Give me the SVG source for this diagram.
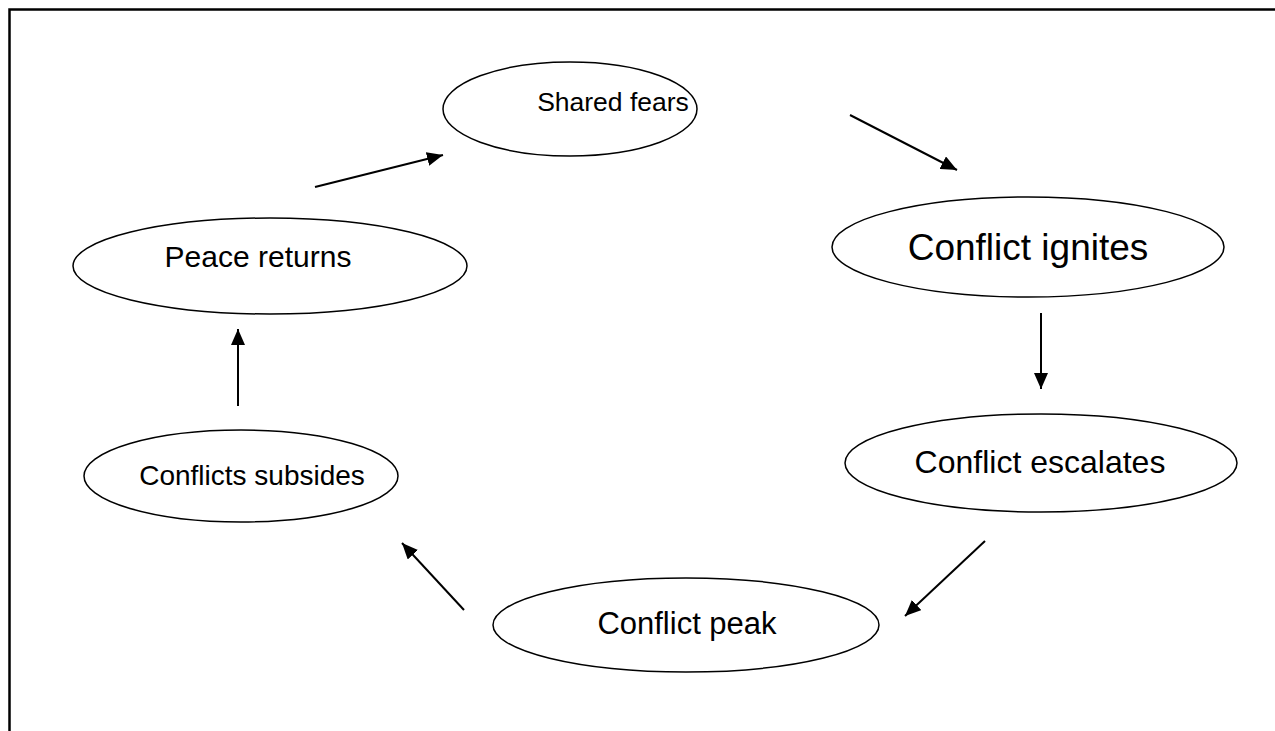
<svg xmlns="http://www.w3.org/2000/svg" width="1275" height="731" viewBox="0 0 1275 731">
<defs>
<style>
.n{fill:#fff;stroke:#000;stroke-width:1.5}
.t{font-family:"Liberation Sans",Arial,sans-serif;fill:#000;text-anchor:middle}
.c{stroke:#000;stroke-width:2;fill:none;marker-end:url(#ah)}
</style>
<marker id="ah" viewBox="0 0 16 14" refX="16" refY="7" markerWidth="16" markerHeight="14" markerUnits="userSpaceOnUse" orient="auto"><path d="M0,0 L16,7 L0,14 z" fill="#000"/></marker>
</defs>
<rect width="1275" height="731" fill="#fff"/>
<path d="M9.5,731 V9.5 H1275" fill="none" stroke="#000" stroke-width="2.5"/>
<g id="shared-fears"><ellipse class="n" cx="570" cy="109" rx="127" ry="47"/><text class="t" x="613" y="111" font-size="26.5">Shared fears</text></g>
<g id="conflict-ignites"><ellipse class="n" cx="1028" cy="247" rx="196" ry="50"/><text class="t" x="1028" y="260" font-size="37">Conflict ignites</text></g>
<g id="conflict-escalates"><ellipse class="n" cx="1041" cy="463" rx="196" ry="49"/><text class="t" x="1040" y="473" font-size="32">Conflict escalates</text></g>
<g id="conflict-peak"><ellipse class="n" cx="686" cy="625" rx="193" ry="47"/><text class="t" x="687" y="634" font-size="31">Conflict peak</text></g>
<g id="conflicts-subsides"><ellipse class="n" cx="241" cy="476" rx="157" ry="46"/><text class="t" x="252" y="485" font-size="28">Conflicts subsides</text></g>
<g id="peace-returns"><ellipse class="n" cx="270" cy="266" rx="197" ry="48"/><text class="t" x="258" y="267" font-size="30">Peace returns</text></g>
<g id="connectors">
<path class="c" d="M315,187 L443,155"/>
<path class="c" d="M850,115 L957,170"/>
<path class="c" d="M1041,313 L1041,389"/>
<path class="c" d="M985,541 L905,616"/>
<path class="c" d="M464,610 L402,543"/>
<path class="c" d="M238,406 L238,329"/>
</g>
</svg>
